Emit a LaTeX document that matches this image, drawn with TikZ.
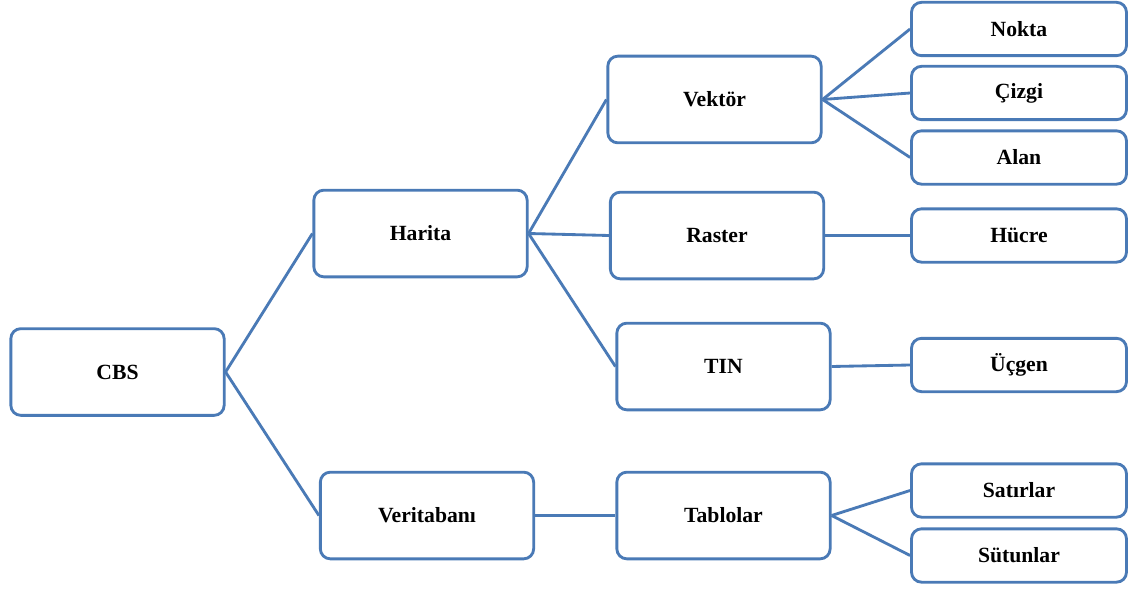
\documentclass[tikz,border=0pt]{standalone}
\usepackage{fontspec}
\setmainfont{Liberation Serif}
\usetikzlibrary{positioning}

\definecolor{boxblue}{RGB}{74,122,182}
\tikzset{
  bigbox/.style={draw=boxblue,line width=1.7pt,rounded corners=6pt,fill=white,
    minimum width=128pt,minimum height=52pt,font=\bfseries\fontsize{13}{15}\selectfont},
  smallbox/.style={bigbox,minimum width=129pt,minimum height=32pt},
  link/.style={draw=boxblue,line width=1.7pt}
}

\begin{document}
\begin{tikzpicture}[x=0.6pt,y=-0.6pt]
\path[use as bounding box,fill=white] (0,0) rectangle (1141,590);

% level 1 and 2
\node[bigbox] (cbs) at (117.5,372) {CBS};
\node[bigbox] (harita) at (420.5,233.5) {Harita};
\node[bigbox] (veritabani) at (427,515.5) {Veritabanı};

% level 3
\node[bigbox] (vektor) at (714.5,99.5) {Vektör};
\node[bigbox] (raster) at (717,235.5) {Raster};
\node[bigbox] (tin) at (723.5,366.5) {TIN};
\node[bigbox] (tablolar) at (723.5,515.5) {Tablolar};

% level 4
\node[smallbox] (nokta) at (1019,29) {Nokta};
\node[smallbox] (cizgi) at (1019,93) {Çizgi};
\node[smallbox] (alan) at (1019,157.5) {Alan};
\node[smallbox] (hucre) at (1019,235.5) {Hücre};
\node[smallbox] (ucgen) at (1019,365) {Üçgen};
\node[smallbox] (satirlar) at (1019,490.5) {Satırlar};
\node[smallbox] (sutunlar) at (1019,555.5) {Sütunlar};

% connectors
\draw[link] (cbs.east) -- (harita.west);
\draw[link] (cbs.east) -- (veritabani.west);
\draw[link] (harita.east) -- (vektor.west);
\draw[link] (harita.east) -- (raster.west);
\draw[link] (harita.east) -- (tin.west);
\draw[link] (vektor.east) -- (nokta.west);
\draw[link] (vektor.east) -- (cizgi.west);
\draw[link] (vektor.east) -- (alan.west);
\draw[link] (raster.east) -- (hucre.west);
\draw[link] (tin.east) -- (ucgen.west);
\draw[link] (veritabani.east) -- (tablolar.west);
\draw[link] (tablolar.east) -- (satirlar.west);
\draw[link] (tablolar.east) -- (sutunlar.west);
\end{tikzpicture}
\end{document}
